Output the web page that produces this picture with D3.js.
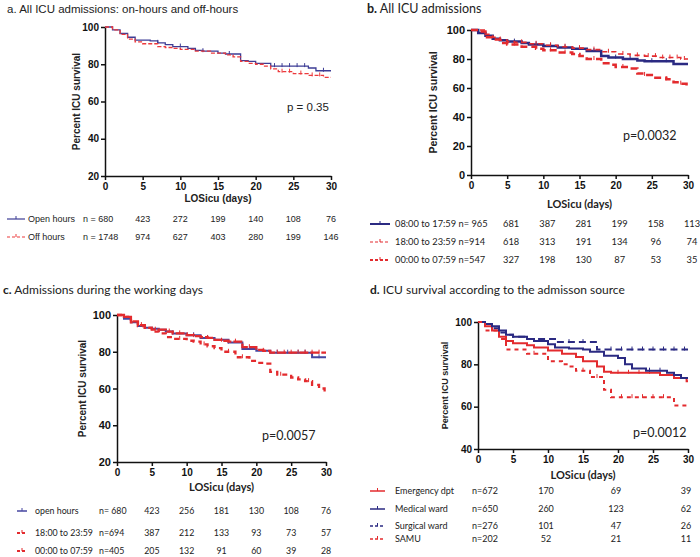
<!DOCTYPE html>
<html>
<head>
<meta charset="utf-8">
<script src="https://cdn.jsdelivr.net/npm/d3@7"></script>
<style>
  body { margin: 0; background: #fff; }
  svg text { fill: #222; }
  .axis path, .axis line { stroke: #111; stroke-width: 1.5; }
  .axis text { font-family: "Liberation Sans", Arial, sans-serif; font-weight: bold; font-size: 10px; fill: #111; }
</style>
</head>
<body>
<svg id="chart" width="700" height="557"></svg>
<script>
// ---- data ----
var xTicks = [0, 5, 10, 15, 20, 25, 30];

// panel a
var aOpen = [[0,100],[1,98.5],[2,96.5],[3,94.5],[4,93],[6,92.5],[7,91.5],[8,90.5],[9,89.5],[11,88.5],[12,87.5],[13,87],[15,86],[16,85.5],[18,82],[19,81.5],[20,80.5],[22,79],[27,78],[28,76.5]];
var aOff = [[0,100],[1,98.5],[2,96],[3,93.5],[4,92],[5,91],[7,89.5],[8,89],[9,88.5],[10,88],[12,87],[14,86],[16,85],[17,84],[18,81.5],[19,80.5],[20,80],[21,79],[22,77.5],[23,76],[25,75],[27,74],[29,73]];
var aOpenCens = [7, 10, 13, 16.5, 22.5, 23.5, 24.5, 25.5, 26.5, 29];
var aOffCens = [23.5, 24.5, 26, 27.5, 28.5];
var aAtRiskDays = [5, 10, 15, 20, 25, 30];
var aOpenRisk = [423, 272, 199, 140, 108, 76];
var aOffRisk = [974, 627, 403, 280, 199, 146];

// panel b
var bDay = [[0,100],[1,98],[2,96],[3,94],[4,93],[5,92],[7,91],[8,90],[10,89],[12,88],[14,87],[16,85.5],[18,82],[19,81],[21,80],[23,79],[24,78.5],[28,76.5]];
var bEve = [[0,100],[2,97],[3,95],[4,93],[5,92],[6,91.5],[8,90.5],[10,89.5],[12,88.5],[14,87.5],[16,86.5],[18,85],[20,83.5],[22,82.5],[24,82],[26,81],[29,80]];
var bNight = [[0,100],[1,99],[2,95],[3,93.5],[4,91],[5,90],[7,88.5],[9,87],[10,86],[12,84.5],[14,83.5],[15,82],[16,80],[18,77],[19,76],[20,74.5],[22,73.5],[23,70],[24,69],[25,67],[27,66],[28,64],[29,63],[29.8,61.5]];
var bDayCens = [6, 9, 11, 13, 15, 17, 20, 22, 25, 27];
var bEveCens = [7, 9, 11, 13, 15, 17, 19, 21, 23, 24.5, 25.5, 26.5, 27.5, 28.5, 29.5];
var bNightCens = [6, 11, 13, 17, 21, 24, 27, 29];
var bAtRiskDays = [5, 10, 15, 20, 25, 30];
var bDayRisk = [681, 387, 281, 199, 158, 113];
var bEveRisk = [618, 313, 191, 134, 96, 74];
var bNightRisk = [327, 198, 130, 87, 53, 35];

// panel c
var cOpen = [[0,100],[1,98],[2,96],[3,94],[4,93],[5,92.5],[6,92],[7,91],[8,90],[10,89],[12,87.5],[14,86.5],[16,85],[18,81.5],[20,80.5],[22,79.5],[28,77]];
var cEve = [[0,100],[1,99],[2,96.5],[3,94.5],[4,93],[5,92],[7,91],[8,90],[10,89],[11,88.5],[12,88],[13,87.5],[14,86.5],[15,86],[16,85.5],[18,82.5],[20,81],[21,80.5],[22,79.5]];
var cNight = [[0,100],[1,99],[2,96],[3,94],[4,93],[5,91],[6,90],[7,88],[8,87],[10,86],[11,85.5],[12,84],[13,83],[14,82],[15,80],[17,77],[19,75],[20,74],[21,73.5],[22,69],[23,67.5],[25,66],[26,65],[27,64],[28,62],[29,60],[29.8,58]];
var cOpenCens = [8, 11, 13, 16, 19, 23, 24.5, 26, 27, 29];
var cEveCens = [3.5, 5.5, 7.5, 9, 11, 13, 15, 17, 19, 21, 23, 24, 25, 26, 27, 28, 29];
var cNightCens = [9, 12.5, 16, 18, 23.5, 27.5];
var cAtRiskDays = [5, 10, 15, 20, 25, 30];
var cOpenRisk = [423, 256, 181, 130, 108, 76];
var cEveRisk = [387, 212, 133, 93, 73, 57];
var cNightRisk = [205, 132, 91, 60, 39, 28];

// panel d
var dEmerg = [[0,100],[1,98],[2,96],[3,93],[4,91],[5,90],[7,89],[8,88],[10,86.5],[12,85],[14,83.5],[15,81.5],[17,79],[18,76.5],[19,76],[26,75],[28,73.5],[29.8,72]];
var dMed = [[0,100],[1,99],[2,98],[3,96],[4,94],[5,93],[7,92],[8,91],[10,89.5],[11,88],[13,87.5],[15,87],[16,86],[18,84],[20,83],[21,80],[22,78],[24,77],[27,76],[28,75],[29,73.5]];
var dSurg = [[0,100],[1,99],[2,97],[3,95],[4,94],[5,93],[7,92],[11,90.5],[17,87]];
var dSamu = [[0,100],[1,96],[3,92],[4,87],[7,85],[10,81.5],[12,80],[13,79],[14,77],[16,74],[18,68],[19,64.5],[28,60.5]];
var dEmergCens = [20, 21.5, 23, 24.5, 26];
var dMedCens = [24.5, 26];
var dSurgCens = [13, 15, 19, 20.5, 22, 23.5, 25, 26.5, 28, 29.5];
var dSamuCens = [8, 15, 17, 20.5, 22, 23.5, 25, 26.5];
var dAtRiskDays = [10, 20, 30];
var dEmergRisk = [170, 69, 39];
var dMedRisk = [260, 123, 62];
var dSurgRisk = [101, 47, 26];
var dSamuRisk = [52, 21, 11];

// ---- drawing ----
var navy = "#2b2a82", red = "#e32b2e";
var svg = d3.select("#chart");
var arial = '"Liberation Sans", Arial, sans-serif';
var cal = 'Lato, "Open Sans", sans-serif';

function survAt(data, t) {
  var v = data[0][1];
  data.forEach(function(d) { if (d[0] <= t) v = d[1]; });
  return v;
}

function panel(p) {
  var x = d3.scaleLinear().domain([0, 30]).range([p.x0, p.x1]);
  var y = d3.scaleLinear().domain(p.yDomain).range([p.yb, p.yt]);
  var g = svg.append("g");

  g.append("text").attr("x", p.titleX).attr("y", p.titleY)
    .style("font-family", p.font).style("font-size", p.titleSize + "px")
    .call(function(t) {
      t.append("tspan").style("font-weight", p.boldLetter ? "bold" : "normal").text(p.letter);
      t.append("tspan").text(" " + p.title);
    });

  g.append("g").attr("class", "axis").attr("transform", "translate(0," + p.yb + ")")
    .call(d3.axisBottom(x).tickValues(xTicks).tickSize(4).tickPadding(3).tickSizeOuter(0));
  g.append("g").attr("class", "axis").attr("transform", "translate(" + p.x0 + ",0)")
    .call(d3.axisLeft(y).tickValues(p.yTicks).tickSize(4).tickPadding(2).tickSizeOuter(0))
    .selectAll("text").style("font-size", p.yTickSize + "px");

  g.append("text").attr("transform", "translate(" + p.ylabX + "," + ((p.yb + p.yt) / 2) + ") rotate(-90)")
    .attr("text-anchor", "middle").style("font-family", arial).style("font-weight", "bold")
    .style("font-size", p.ylabSize + "px").text("Percent ICU survival");

  g.append("text").attr("x", (p.x0 + p.x1) / 2 + p.xlabShift).attr("y", p.xlabY).attr("text-anchor", "middle")
    .style("font-family", p.xlabFont).style("font-weight", "bold").style("font-size", p.xlabSize + "px")
    .text("LOSicu (days)");

  g.append("text").attr("x", p.pX).attr("y", p.pY).style("font-family", p.font)
    .style("font-size", p.pSize + "px").text(p.pText);

  var line = d3.line().curve(d3.curveStepAfter).x(function(d) { return x(d[0]); }).y(function(d) { return y(d[1]); });

  p.series.forEach(function(s) {
    var pts = s.data.concat([[30, s.data[s.data.length - 1][1]]]);
    g.append("path").datum(pts).attr("d", line).attr("fill", "none")
      .attr("stroke", s.color).attr("stroke-width", s.width)
      .attr("stroke-dasharray", s.dash || null);
    g.selectAll(null).data(s.cens).enter().append("line")
      .attr("x1", function(t) { return x(t); }).attr("x2", function(t) { return x(t); })
      .attr("y1", function(t) { return y(survAt(s.data, t)) - 3; })
      .attr("y2", function(t) { return y(survAt(s.data, t)) + 1; })
      .attr("stroke", s.color).attr("stroke-width", 1);

    // at-risk table row
    var row = g.append("g").attr("transform", "translate(0," + s.rowY + ")");
    row.append("line").attr("x1", p.symX).attr("x2", p.symX + p.symW).attr("y1", -3).attr("y2", -3)
      .attr("stroke", s.color).attr("stroke-width", Math.max(1.2, s.width - 0.5))
      .attr("stroke-dasharray", s.dash ? "3,2" : null);
    row.append("line").attr("x1", p.symX + p.symW / 2).attr("x2", p.symX + p.symW / 2)
      .attr("y1", -6).attr("y2", -3).attr("stroke", s.color).attr("stroke-width", 1);
    row.append("text").attr("x", p.labX).attr("y", 0).style("font-family", p.font)
      .style("font-size", p.tabSize + "px").text(s.label);
    row.append("text").attr("x", p.nX).attr("y", 0).style("font-family", p.font)
      .style("font-size", p.tabSize + "px").text(s.n);
    row.selectAll(null).data(s.risk).enter().append("text")
      .attr("x", function(v, i) { return x(p.riskDays[i]) + p.riskShift; }).attr("y", 0)
      .attr("text-anchor", "middle").style("font-family", p.font)
      .style("font-size", p.tabSize + "px").text(function(v) { return v; });
  });
}

panel({
  x0: 105, x1: 331, yb: 176, yt: 27, yDomain: [20, 100], yTicks: [20, 40, 60, 80, 100], yTickSize: 10,
  font: arial, letter: "a.", boldLetter: false, title: "All ICU admissions: on-hours and off-hours",
  titleX: 7, titleY: 13, titleSize: 11.5,
  ylabX: 80, ylabSize: 10, xlabY: 202, xlabShift: 0, xlabFont: arial, xlabSize: 10,
  pX: 287, pY: 111, pSize: 11.5, pText: "p = 0.35",
  symX: 7, symW: 18, labX: 28, nX: 83, tabSize: 9, riskDays: aAtRiskDays, riskShift: 0,
  series: [
    { data: aOpen, cens: aOpenCens, color: "#3d3d95", width: 1.3, label: "Open hours", n: "n = 680", risk: aOpenRisk, rowY: 222 },
    { data: aOff, cens: aOffCens, color: "#ec3a3d", width: 1.3, dash: "4,2", label: "Off hours", n: "n = 1748", risk: aOffRisk, rowY: 240 }
  ]
});

panel({
  x0: 471, x1: 688, yb: 175, yt: 30, yDomain: [0, 100], yTicks: [0, 20, 40, 60, 80, 100], yTickSize: 11,
  font: cal, letter: "b.", boldLetter: true, title: "All ICU admissions",
  titleX: 367, titleY: 13, titleSize: 12.5,
  ylabX: 437, ylabSize: 10.5, xlabY: 208, xlabShift: 0, xlabFont: cal, xlabSize: 11,
  pX: 623, pY: 140, pSize: 12.5, pText: "p=0.0032",
  symX: 370, symW: 20, labX: 395, nX: 474, tabSize: 9.3, riskDays: bAtRiskDays, riskShift: 4,
  series: [
    { data: bDay, cens: bDayCens, color: navy, width: 2.5, label: "08:00 to 17:59 n= 965", n: "", risk: bDayRisk, rowY: 227 },
    { data: bEve, cens: bEveCens, color: red, width: 1.6, dash: "5,4", label: "18:00 to 23:59 n=914", n: "", risk: bEveRisk, rowY: 245 },
    { data: bNight, cens: bNightCens, color: red, width: 2.5, dash: "7,4", label: "00:00 to 07:59 n=547", n: "", risk: bNightRisk, rowY: 263 }
  ]
});

panel({
  x0: 117, x1: 326, yb: 462, yt: 315, yDomain: [20, 100], yTicks: [20, 40, 60, 80, 100], yTickSize: 11,
  font: cal, letter: "c.", boldLetter: true, title: "Admissions during the working days",
  titleX: 3, titleY: 294, titleSize: 12,
  ylabX: 86, ylabSize: 10, xlabY: 491, xlabShift: 0, xlabFont: cal, xlabSize: 11,
  pX: 262, pY: 440, pSize: 12.5, pText: "p=0.0057",
  symX: 17, symW: 10, labX: 35, nX: 99, tabSize: 8.8, riskDays: cAtRiskDays, riskShift: 0,
  series: [
    { data: cOpen, cens: cOpenCens, color: "#4646a0", width: 2, label: "open hours", n: "n= 680", risk: cOpenRisk, rowY: 514 },
    { data: cEve, cens: cEveCens, color: red, width: 2.3, dash: "9,2", label: "18:00 to 23:59", n: "n=694", risk: cEveRisk, rowY: 536 },
    { data: cNight, cens: cNightCens, color: red, width: 2.3, dash: "5,4", label: "00:00 to 07:59", n: "n=405", risk: cNightRisk, rowY: 554 }
  ]
});

panel({
  x0: 478, x1: 688, yb: 449, yt: 322, yDomain: [40, 100], yTicks: [40, 60, 80, 100], yTickSize: 10,
  font: cal, letter: "d.", boldLetter: true, title: "ICU survival according to the admisson source",
  titleX: 370, titleY: 294, titleSize: 12,
  ylabX: 448, ylabSize: 9, xlabY: 479, xlabShift: 0, xlabFont: cal, xlabSize: 11,
  pX: 633, pY: 437, pSize: 12.5, pText: "p=0.0012",
  symX: 370, symW: 15, labX: 395, nX: 472, tabSize: 9, riskDays: dAtRiskDays, riskShift: -2,
  series: [
    { data: dEmerg, cens: dEmergCens, color: red, width: 2, label: "Emergency dpt", n: "n=672", risk: dEmergRisk, rowY: 494 },
    { data: dMed, cens: dMedCens, color: navy, width: 2, label: "Medical ward", n: "n=650", risk: dMedRisk, rowY: 512 },
    { data: dSurg, cens: dSurgCens, color: navy, width: 2, dash: "7,4", label: "Surgical ward", n: "n=276", risk: dSurgRisk, rowY: 529 },
    { data: dSamu, cens: dSamuCens, color: red, width: 2, dash: "4,4", label: "SAMU", n: "n=202", risk: dSamuRisk, rowY: 542 }
  ]
});
</script>
</body>
</html>
